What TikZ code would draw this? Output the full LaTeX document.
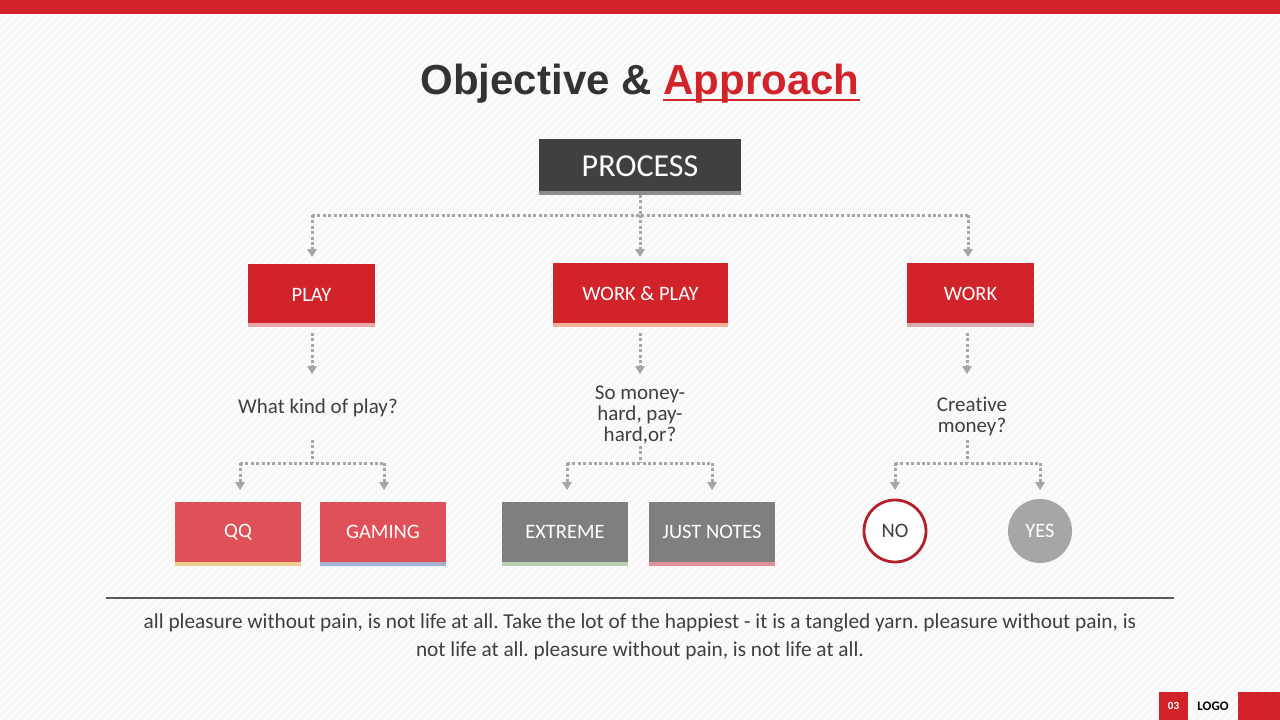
\documentclass[tikz,border=0pt]{standalone}
\usepackage{fontspec}
\setmainfont[Ligatures=NoCommon]{Carlito}
\newfontfamily\titlefont{Liberation Sans}
\usetikzlibrary{arrows.meta}
\frenchspacing
\definecolor{myred}{HTML}{D2232A}
\definecolor{lightred}{HTML}{E05058}
\definecolor{darkbox}{HTML}{404040}
\definecolor{midgray}{HTML}{7F7F7F}
\definecolor{dotgray}{HTML}{A6A6A6}
\definecolor{txtgray}{HTML}{3F3F3F}
\definecolor{titlegray}{HTML}{333333}
\definecolor{bg}{HTML}{F7F7F7}
\definecolor{stripgray}{HTML}{8C8C8C}
\definecolor{sPlay}{RGB}{232,168,168}
\definecolor{sWP}{RGB}{242,176,150}
\definecolor{sWork}{RGB}{214,170,176}
\definecolor{sQQ}{RGB}{240,208,144}
\definecolor{sGame}{RGB}{164,176,208}
\definecolor{sExt}{RGB}{186,208,178}
\definecolor{sNotes}{RGB}{224,144,154}
\definecolor{noRed}{RGB}{178,32,42}
\definecolor{ruleGray}{RGB}{90,90,90}
\begin{document}
\begin{tikzpicture}[x=1pt,y=-1pt,
  conn/.style={draw=dotgray,line width=3pt,dash pattern=on 3pt off 2.4pt},
  arr/.style={conn,-{Triangle[width=10pt,length=8pt,fill=dotgray,line width=0pt]}},
  boxtext/.style={text=white,font=\fontsize{20.5}{22}\selectfont},
  qtext/.style={text=txtgray,align=center,font=\fontsize{21}{21}\selectfont\frenchspacing}]
\useasboundingbox (0,0) rectangle (1280,720);
\fill[bg] (0,0) rectangle (1280,720);
\begin{scope}
\clip (0,14) rectangle (1280,720);
\foreach \i in {0,8,...,2000}{
  \draw[white,line width=1.5pt] (\i,0) -- (\i-720,720);
}
\end{scope}
\fill[myred] (0,0) rectangle (1280,14);
% title
\node (title) at (640,84) {\titlefont\bfseries\fontsize{42}{48}\selectfont\textcolor{titlegray}{Objective \&} \textcolor{myred}{Approach}};
\draw[myred,line width=2.6pt] (663,100) -- (860,100);
% process
\fill[darkbox] (539,139) rectangle (741,191);
\fill[stripgray] (539,191) rectangle (741,195);
\node[text=white,font=\fontsize{32}{34}\selectfont] (process) at (640,166) {PROCESS};
\coordinate (pb) at (640,195);
% level-1 boxes
\fill[myred] (248,264) rectangle (375,323);
\fill[sPlay] (248,323) rectangle (375,327);
\node[boxtext] (play) at (311.5,295) {PLAY};
\fill[myred] (553,263) rectangle (728,323);
\fill[sWP] (553,323) rectangle (728,327);
\node[boxtext] (wp) at (640.5,294) {WORK \& PLAY};
\fill[myred] (907,263) rectangle (1034,323);
\fill[sWork] (907,323) rectangle (1034,327);
\node[boxtext] (work) at (970.5,294) {WORK};
% connectors from process
\coordinate (h1) at (640,215);
\coordinate (hl) at (312,215);
\coordinate (hr) at (968,215);
\coordinate (al) at (312,257);
\coordinate (am) at (640,257);
\coordinate (ar) at (968,257);
\draw[conn] (pb) -- (h1);
\draw[conn] (hl) -- (hr);
\draw[arr] (h1) -- (am);
\draw[arr] (hl) -- (al);
\draw[arr] (hr) -- (ar);
% questions
\node[qtext] (q1) at (318,408) {What kind of play?};
\node[qtext] (q2) at (640,415) {So money-\\hard, pay-\\hard,or?};
\node[qtext] (q3) at (972,416) {Creative\\money?};
\coordinate (p1b) at (312,333);
\coordinate (p2b) at (640,333);
\coordinate (p3b) at (967,333);
\draw[arr] (p1b) -- (312,374);
\draw[arr] (p2b) -- (640,374);
\draw[arr] (p3b) -- (967,374);
% lower connectors
\draw[conn] (312,440) -- (312,463);
\draw[conn] (240,463) -- (384,463);
\draw[arr] (240,463) -- (240,490);
\draw[arr] (384,463) -- (384,490);
\draw[conn] (640,446) -- (640,463);
\draw[conn] (567,463) -- (712,463);
\draw[arr] (567,463) -- (567,490);
\draw[arr] (712,463) -- (712,490);
\draw[conn] (967,440) -- (967,463);
\draw[conn] (895,463) -- (1040,463);
\draw[arr] (895,463) -- (895,490);
\draw[arr] (1040,463) -- (1040,490);
% level-3 boxes
\fill[lightred] (175,502) rectangle (301,562);
\fill[sQQ] (175,562) rectangle (301,566);
\node[boxtext] (qq) at (238,532) {QQ};
\fill[lightred] (320,502) rectangle (446,562);
\fill[sGame] (320,562) rectangle (446,566);
\node[boxtext] (gaming) at (383,532) {GAMING};
\fill[midgray] (502,502) rectangle (628,562);
\fill[sExt] (502,562) rectangle (628,566);
\node[boxtext] (extreme) at (565,532) {EXTREME};
\fill[midgray] (649,502) rectangle (775,562);
\fill[sNotes] (649,562) rectangle (775,566);
\node[boxtext] (notes) at (712,532) {JUST NOTES};
\node[circle,draw=noRed,line width=2.8pt,minimum size=62pt,fill=white,text=txtgray,font=\fontsize{20.5}{22}\selectfont] (no) at (895,531) {NO};
\node[circle,fill=dotgray,minimum size=64pt,text=white,font=\fontsize{20.5}{22}\selectfont] (yes) at (1040,531) {YES};
% rule and paragraph
\draw[ruleGray,line width=1.4pt] (106,598) -- (1174,598);
\node[text=txtgray,align=center,font=\fontsize{21.3}{28}\selectfont\frenchspacing] (para) at (640,637) {all pleasure without pain, is not life at all. Take the lot of the happiest - it is a tangled yarn. pleasure without pain, is\\not life at all. pleasure without pain, is not life at all.};
% footer
\fill[myred] (1159,692) rectangle (1188,720);
\node[text=white,font=\bfseries\fontsize{11}{12}\selectfont] (pg) at (1173.5,706) {03};
\node[text=black,font=\bfseries\fontsize{13}{14}\selectfont] (logo) at (1213,706) {LOGO};
\fill[myred] (1238,692) rectangle (1280,720);
\end{tikzpicture}
\end{document}
